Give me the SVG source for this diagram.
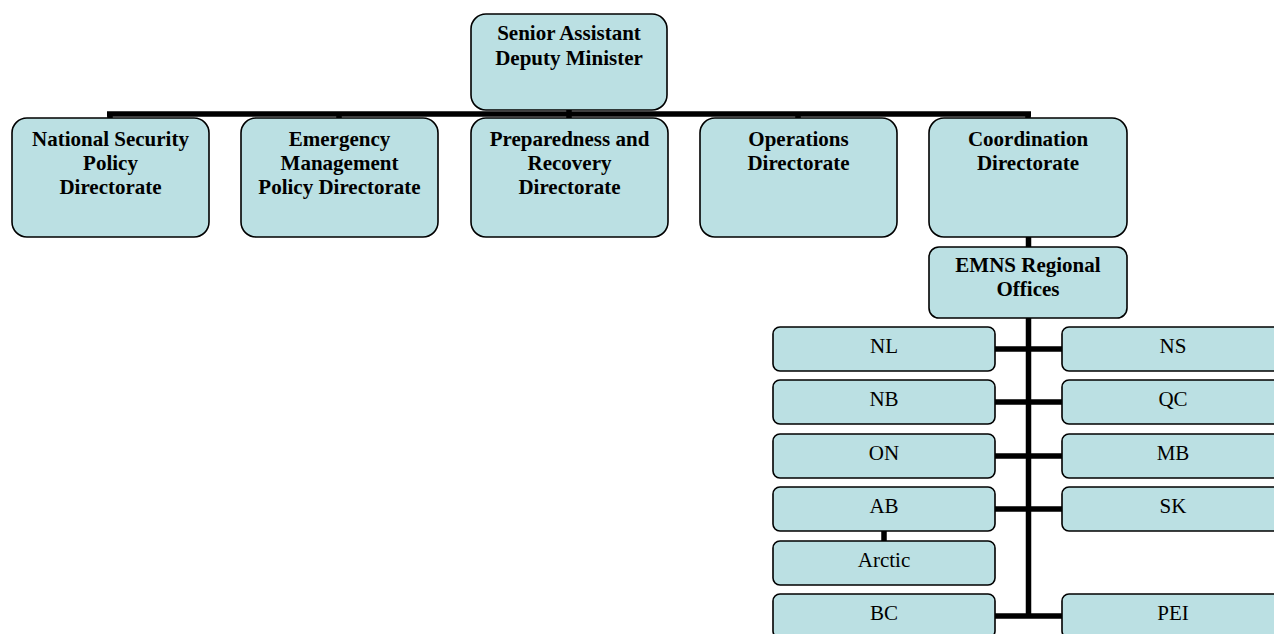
<svg xmlns="http://www.w3.org/2000/svg" width="1274" height="634" viewBox="0 0 1274 634">
<style>
.box{fill:#BBE0E3;stroke:#000;stroke-width:1.6}
.b{font-family:"Liberation Serif","Times New Roman",serif;font-weight:bold;font-size:21px;fill:#000;text-anchor:middle}
.r{font-family:"Liberation Serif","Times New Roman",serif;font-size:21px;fill:#000;text-anchor:middle}
.c{stroke:#000;stroke-width:5.5;fill:none}
</style>
<rect width="1274" height="634" fill="#fff"/>
<g id="connectors">
<path class="c" d="M569 110V114M107 114H1031M110 114V118M339 114V118M569 114V118M798 114V118M1028 114V118"/>
<path class="c" d="M1028.5 237V247M1028.5 318V617"/>
<path class="c" d="M995 349H1062M995 402H1062M995 456H1062M995 509H1062M995 616H1062"/>
<path class="c" d="M884 531V541"/>
</g>
<g id="sadm"><rect class="box" x="471" y="14" width="196" height="96" rx="15"/><text class="b" x="569" y="40">Senior Assistant</text><text class="b" x="569" y="65">Deputy Minister</text></g>
<g id="nsp"><rect class="box" x="12" y="118" width="197" height="119" rx="15"/><text class="b" x="110.5" y="146">National Security</text><text class="b" x="110.5" y="170">Policy</text><text class="b" x="110.5" y="194">Directorate</text></g>
<g id="emp"><rect class="box" x="241" y="118" width="197" height="119" rx="15"/><text class="b" x="339.5" y="146">Emergency</text><text class="b" x="339.5" y="170">Management</text><text class="b" x="339.5" y="194">Policy Directorate</text></g>
<g id="prd"><rect class="box" x="471" y="118" width="197" height="119" rx="15"/><text class="b" x="569.5" y="146">Preparedness and</text><text class="b" x="569.5" y="170">Recovery</text><text class="b" x="569.5" y="194">Directorate</text></g>
<g id="ops"><rect class="box" x="700" y="118" width="197" height="119" rx="15"/><text class="b" x="798.5" y="146">Operations</text><text class="b" x="798.5" y="170">Directorate</text></g>
<g id="coord"><rect class="box" x="929" y="118" width="198" height="119" rx="15"/><text class="b" x="1028" y="146">Coordination</text><text class="b" x="1028" y="170">Directorate</text></g>
<g id="emns"><rect class="box" x="929" y="247" width="198" height="71" rx="10"/><text class="b" x="1028" y="272">EMNS Regional</text><text class="b" x="1028" y="296">Offices</text></g>
<g id="nl"><rect class="box" x="773" y="327" width="222" height="44" rx="7"/><text class="r" x="884" y="353">NL</text></g>
<g id="nb"><rect class="box" x="773" y="380" width="222" height="44" rx="7"/><text class="r" x="884" y="406">NB</text></g>
<g id="on"><rect class="box" x="773" y="434" width="222" height="44" rx="7"/><text class="r" x="884" y="460">ON</text></g>
<g id="ab"><rect class="box" x="773" y="487" width="222" height="44" rx="7"/><text class="r" x="884" y="513">AB</text></g>
<g id="arctic"><rect class="box" x="773" y="541" width="222" height="44" rx="7"/><text class="r" x="884" y="567">Arctic</text></g>
<g id="bc"><rect class="box" x="773" y="594" width="222" height="44" rx="7"/><text class="r" x="884" y="620">BC</text></g>
<g id="ns"><rect class="box" x="1062" y="327" width="222" height="44" rx="7"/><text class="r" x="1173" y="353">NS</text></g>
<g id="qc"><rect class="box" x="1062" y="380" width="222" height="44" rx="7"/><text class="r" x="1173" y="406">QC</text></g>
<g id="mb"><rect class="box" x="1062" y="434" width="222" height="44" rx="7"/><text class="r" x="1173" y="460">MB</text></g>
<g id="sk"><rect class="box" x="1062" y="487" width="222" height="44" rx="7"/><text class="r" x="1173" y="513">SK</text></g>
<g id="pei"><rect class="box" x="1062" y="594" width="222" height="44" rx="7"/><text class="r" x="1173" y="620">PEI</text></g>
</svg>
